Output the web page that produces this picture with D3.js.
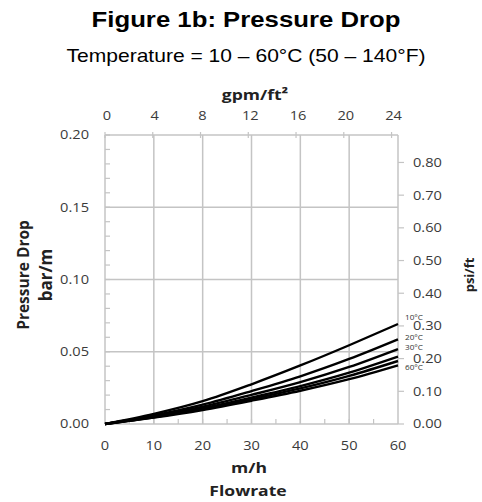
<!DOCTYPE html>
<html lang="en">
<head>
    <meta charset="UTF-8">
    <title>Figure 1b: Pressure Drop</title>
    <script src="https://d3js.org/d3.v7.min.js"></script>
    <style>
        body { margin: 0; background: #fff; }
        svg { display: block; }
        .title { font-family: "Liberation Sans", Arial, sans-serif; font-weight: bold; font-size: 22px; fill: #000; }
        .subtitle { font-family: "Liberation Sans", Arial, sans-serif; font-size: 18px; fill: #000; }
        .tick-label { font-family: "Open Sans", sans-serif; font-size: 12.5px; fill: #3a3a3a; }
        .axis-title { font-family: "Open Sans", sans-serif; font-weight: bold; font-size: 15px; fill: #222; }
        .temp-label { font-family: "Open Sans", sans-serif; font-size: 7px; fill: #333; }
        .grid line { stroke: #c4c4c4; stroke-width: 1.5px; }
        .curve { fill: none; stroke: #000; stroke-width: 2.4px; }
    </style>
</head>
<body>
    <svg width="482" height="502"></svg>

    <script>
        // flowrate m/h
        const flow = [0, 10, 20, 30, 40, 50, 60];
        // pressure drop bar/m, one series per temperature
        const temps = ['10°C', '20°C', '30°C', '40°C', '50°C', '60°C'];
        const drop10 = [0, 0.0070, 0.0158, 0.0275, 0.0405, 0.0545, 0.0692];
        const drop20 = [0, 0.0060, 0.0134, 0.0228, 0.0330, 0.0450, 0.0586];
        const drop30 = [0, 0.0055, 0.0120, 0.0202, 0.0290, 0.0395, 0.0519];
        const drop40 = [0, 0.0050, 0.0110, 0.0183, 0.0262, 0.0355, 0.0466];
        const drop50 = [0, 0.0047, 0.0103, 0.0172, 0.0246, 0.0333, 0.0436];
        const drop60 = [0, 0.0044, 0.0097, 0.0161, 0.0230, 0.0310, 0.0406];
        const shownLabels = ['10°C', '20°C', '30°C', '60°C'];

        const xTicks = [0, 10, 20, 30, 40, 50, 60];
        const gpmTicks = [0, 4, 8, 12, 16, 20, 24];
        const barTicks = [0, 0.05, 0.10, 0.15, 0.20];
        const psiTicks = [0, 0.1, 0.2, 0.3, 0.4, 0.5, 0.6, 0.7, 0.8];

        const series = [drop10, drop20, drop30, drop40, drop50, drop60].map((vals, i) => ({
            name: temps[i],
            values: flow.map((f, j) => ({ x: f, y: vals[j] }))
        }));

        const svg = d3.select('svg');

        const plot = { left: 105, right: 398, top: 135, bottom: 424 };
        // the original figure is a little stretched sideways
        const stretch = 1.17;
        const place = (px, py) => `translate(${px},${py}) scale(${stretch},1)`;

        const x = d3.scaleLinear().domain([0, 60]).range([plot.left, plot.right]);
        const y = d3.scaleLinear().domain([0, 0.2]).range([plot.bottom, plot.top]);
        // 1 gpm/ft2 = 2.445 m/h, 1 bar/m = 4.42 psi/ft
        const xGpm = d3.scaleLinear().domain([0, 60 / 2.445]).range([plot.left, plot.right]);
        const yPsi = d3.scaleLinear().domain([0, 0.2 * 4.42]).range([plot.bottom, plot.top]);

        // titles
        svg.append('text').attr('class', 'title')
            .attr('transform', place(246, 27)).attr('text-anchor', 'middle')
            .text('Figure 1b: Pressure Drop');
        svg.append('text').attr('class', 'subtitle')
            .attr('transform', place(246, 61.5)).attr('text-anchor', 'middle')
            .text('Temperature = 10 – 60°C (50 – 140°F)');

        // grid
        const grid = svg.append('g').attr('class', 'grid');
        grid.selectAll('.v').data(xTicks).enter().append('line')
            .attr('x1', d => x(d)).attr('x2', d => x(d))
            .attr('y1', plot.top).attr('y2', plot.bottom);
        grid.selectAll('.h').data(barTicks).enter().append('line')
            .attr('x1', plot.left).attr('x2', plot.right)
            .attr('y1', d => y(d)).attr('y2', d => y(d));

        // minor ticks
        const tickStroke = '#c4c4c4';
        svg.append('g').selectAll('line').data(d3.range(0, 0.2001, 0.01)).enter().append('line')
            .attr('x1', plot.left).attr('x2', plot.left + 5)
            .attr('y1', d => y(d)).attr('y2', d => y(d))
            .attr('stroke', tickStroke).attr('stroke-width', 1.2);
        svg.append('g').selectAll('line').data(d3.range(5, 60, 5)).enter().append('line')
            .attr('x1', d => x(d)).attr('x2', d => x(d))
            .attr('y1', plot.bottom).attr('y2', plot.bottom - 5)
            .attr('stroke', tickStroke).attr('stroke-width', 1.2);
        svg.append('g').selectAll('line').data(gpmTicks).enter().append('line')
            .attr('x1', d => xGpm(d)).attr('x2', d => xGpm(d))
            .attr('y1', plot.top - 3).attr('y2', plot.top + 3)
            .attr('stroke', tickStroke).attr('stroke-width', 1.2);
        svg.append('g').selectAll('line').data(psiTicks).enter().append('line')
            .attr('x1', plot.right).attr('x2', plot.right + 6)
            .attr('y1', d => yPsi(d)).attr('y2', d => yPsi(d))
            .attr('stroke', tickStroke).attr('stroke-width', 1.2);

        // tick labels
        svg.append('g').selectAll('text').data(barTicks).enter().append('text')
            .attr('class', 'tick-label')
            .attr('transform', d => place(89, y(d))).attr('dy', '0.35em')
            .attr('text-anchor', 'end')
            .text(d3.format('.2f'));
        svg.append('g').selectAll('text').data(psiTicks).enter().append('text')
            .attr('class', 'tick-label')
            .attr('transform', d => place(413, yPsi(d))).attr('dy', '0.35em')
            .text(d3.format('.2f'));
        svg.append('g').selectAll('text').data(xTicks).enter().append('text')
            .attr('class', 'tick-label')
            .attr('transform', d => place(x(d), 446)).attr('dy', '0.35em')
            .attr('text-anchor', 'middle')
            .text(d => d);
        svg.append('g').selectAll('text').data(gpmTicks).enter().append('text')
            .attr('class', 'tick-label')
            .attr('transform', d => place(xGpm(d) + 2, 116)).attr('dy', '0.35em')
            .attr('text-anchor', 'middle')
            .text(d => d);

        // axis titles
        svg.append('text').attr('class', 'axis-title')
            .attr('transform', place(255, 95)).attr('dy', '0.35em').attr('text-anchor', 'middle')
            .text('gpm/ft²');
        svg.append('text').attr('class', 'axis-title')
            .attr('transform', place(249, 468)).attr('dy', '0.35em').attr('text-anchor', 'middle')
            .text('m/h');
        svg.append('text').attr('class', 'axis-title')
            .attr('transform', place(248, 491)).attr('dy', '0.35em').attr('text-anchor', 'middle')
            .text('Flowrate');
        svg.append('text').attr('class', 'axis-title')
            .attr('transform', 'translate(24,275) rotate(-90)')
            .attr('dy', '0.35em').attr('text-anchor', 'middle')
            .style('font-size', '15.5px')
            .text('Pressure Drop');
        svg.append('text').attr('class', 'axis-title')
            .attr('transform', 'translate(46,275) rotate(-90)')
            .attr('dy', '0.35em').attr('text-anchor', 'middle')
            .style('font-size', '17px')
            .text('bar/m');
        svg.append('text').attr('class', 'axis-title')
            .attr('transform', 'translate(469,275) rotate(-90)')
            .attr('dy', '0.35em').attr('text-anchor', 'middle')
            .style('font-size', '13px')
            .text('psi/ft');

        // curves
        const line = d3.line()
            .x(d => x(d.x))
            .y(d => y(d.y))
            .curve(d3.curveMonotoneX);

        svg.append('g').selectAll('path').data(series).enter().append('path')
            .attr('class', 'curve')
            .attr('d', d => line(d.values));

        // temperature labels at curve ends
        const labelOffset = { '10°C': -6.5, '20°C': -1.5, '30°C': -1.5, '60°C': 2.5 };
        svg.append('g').selectAll('text')
            .data(series.filter(s => shownLabels.includes(s.name))).enter().append('text')
            .attr('class', 'temp-label')
            .attr('transform', d => place(405, y(d.values[d.values.length - 1].y) + labelOffset[d.name]))
            .attr('dy', '0.35em')
            .text(d => d.name);
    </script>
</body>
</html>
